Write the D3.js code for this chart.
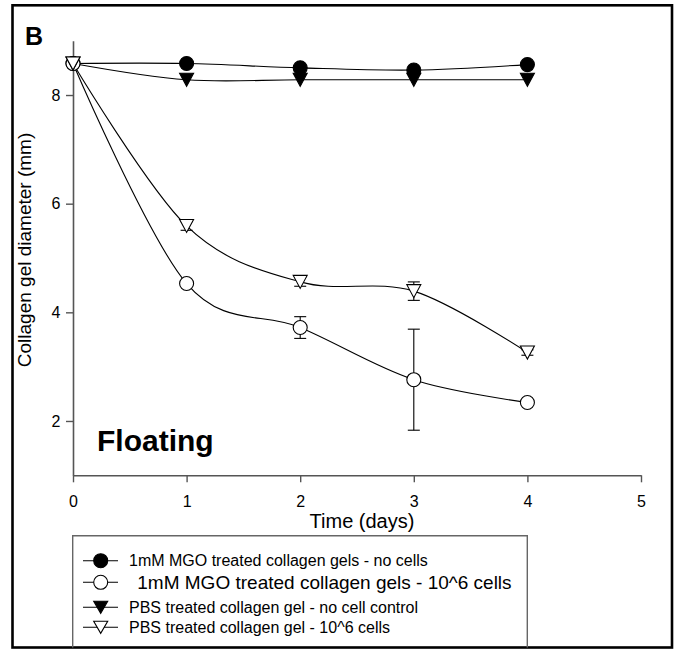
<!DOCTYPE html>
<html>
<head>
<meta charset="utf-8">
<script src="https://cdn.jsdelivr.net/npm/d3@7"></script>
<style>
  html, body { margin: 0; padding: 0; background: #fff; }
  svg { display: block; font-family: "Liberation Sans", Arial, sans-serif; }
</style>
</head>
<body>
<svg id="chart" width="674" height="649"></svg>
<script>
// ---- data ----
const days = [0, 1, 2, 3, 4];
const xTicks = [0, 1, 2, 3, 4, 5];
const yTicks = [2, 4, 6, 8];
const mgoNoCells = [8.58, 8.58, 8.50, 8.46, 8.56];
const mgoCells = [8.58, 4.53, 3.72, 2.76, 2.34];
const mgoCellsErr = [0, 0.05, 0.20, 0.93, 0.05];
const pbsNoCells = [8.58, 8.28, 8.28, 8.28, 8.28];
const pbsCells = [8.58, 5.59, 4.56, 4.39, 3.26];
const pbsCellsErr = [0, 0.08, 0.08, 0.17, 0.05];
const legendLabels = [
  "1mM MGO treated collagen gels - no cells",
  "1mM MGO treated collagen gels - 10^6 cells",
  "PBS treated collagen gel - no cell control",
  "PBS treated collagen gel - 10^6 cells"
];

const svg = d3.select("#chart");
const x = d3.scaleLinear().domain([0, 5]).range([73, 641]);
const y = d3.scaleLinear().domain([1, 9]).range([475.3, 40.7]);
const axisColor = "#555";

// outer frame
svg.append("rect").attr("x", 12.5).attr("y", 5.3).attr("width", 659.5).attr("height", 642.2)
  .attr("fill", "none").attr("stroke", "#000").attr("stroke-width", 2.6);

// axes
const gx = svg.append("g").attr("transform", `translate(0,${y(1)})`)
  .call(d3.axisBottom(x).tickValues(xTicks).tickFormat(d3.format("d")).tickSize(7).tickPadding(13).tickSizeOuter(0));
const gy = svg.append("g").attr("transform", `translate(${x(0)},0)`)
  .call(d3.axisLeft(y).tickValues(yTicks).tickFormat(d3.format("d")).tickSize(7).tickPadding(5.5).tickSizeOuter(0));
[gx, gy].forEach(g => {
  g.select(".domain").attr("stroke", axisColor).attr("stroke-width", 1.6);
  g.selectAll(".tick line").attr("stroke", axisColor).attr("stroke-width", 1.4);
  g.selectAll(".tick text").attr("fill", "#000").style("font-size", "16px").style("font-family", "'Liberation Sans', Arial, sans-serif");
});

// axis titles
svg.append("text").attr("transform", "translate(31,250) rotate(-90)").attr("text-anchor", "middle")
  .style("font-size", "19px").text("Collagen gel diameter (mm)");
svg.append("text").attr("x", 362).attr("y", 528).attr("text-anchor", "middle")
  .style("font-size", "20px").text("Time (days)");

// panel labels
svg.append("text").attr("x", 25).attr("y", 45).style("font-size", "25px").style("font-weight", "bold").text("B");
svg.append("text").attr("x", 97).attr("y", 451).style("font-size", "30px").style("font-weight", "bold").text("Floating");

// lines
const line = d3.line().x((d, i) => x(days[i])).y(d => y(d)).curve(d3.curveCardinal.tension(0));
const series = [
  { vals: mgoNoCells, err: null, type: "circle", fill: "#000" },
  { vals: mgoCells, err: mgoCellsErr, type: "circle", fill: "#fff" },
  { vals: pbsNoCells, err: null, type: "tri", fill: "#000" },
  { vals: pbsCells, err: pbsCellsErr, type: "tri", fill: "#fff" }
];
const triPath = (h) => `M-7,${-h / 2}L7,${-h / 2}L0,${h / 2}Z`;

series.forEach(s => {
  svg.append("path").datum(s.vals).attr("d", line).attr("fill", "none").attr("stroke", "#000").attr("stroke-width", 1.1);
});
// error bars
series.forEach(s => {
  if (!s.err) return;
  const g = svg.append("g").attr("stroke", "#000").attr("stroke-width", 1.1);
  s.vals.forEach((v, i) => {
    const e = s.err[i];
    if (!e) return;
    const cx = x(days[i]);
    g.append("line").attr("x1", cx).attr("x2", cx).attr("y1", y(v + e)).attr("y2", y(v - e));
    g.append("line").attr("x1", cx - 6).attr("x2", cx + 6).attr("y1", y(v + e)).attr("y2", y(v + e));
    g.append("line").attr("x1", cx - 6).attr("x2", cx + 6).attr("y1", y(v - e)).attr("y2", y(v - e));
  });
});
// markers
series.forEach(s => {
  const g = svg.append("g");
  s.vals.forEach((v, i) => {
    if (s.type === "circle") {
      g.append("circle").attr("cx", x(days[i])).attr("cy", y(v)).attr("r", 7)
        .attr("fill", s.fill).attr("stroke", "#000").attr("stroke-width", 1.1);
    } else {
      g.append("path").attr("d", triPath(13)).attr("transform", `translate(${x(days[i])},${y(v)})`)
        .attr("fill", s.fill).attr("stroke", "#000").attr("stroke-width", 1.1);
    }
  });
});

// legend
svg.append("path").attr("d", "M72.7,647.5V535.7H527.3V647.5").attr("fill", "none").attr("stroke", "#666").attr("stroke-width", 1.4);
const legendY = [560.7, 582.3, 607.3, 627.3];
const legendTextX = [129, 137.3, 129, 129];
const legendSize = [16, 19, 16, 16];
series.forEach((s, i) => {
  const cy = legendY[i];
  svg.append("line").attr("x1", 83).attr("x2", 118).attr("y1", cy).attr("y2", cy).attr("stroke", "#000").attr("stroke-width", 1.1);
  if (s.type === "circle") {
    svg.append("circle").attr("cx", 100.7).attr("cy", cy).attr("r", 7).attr("fill", s.fill).attr("stroke", "#000").attr("stroke-width", 1.1);
  } else {
    svg.append("path").attr("d", triPath(12)).attr("transform", `translate(100.7,${cy})`)
      .attr("fill", s.fill).attr("stroke", "#000").attr("stroke-width", 1.1);
  }
  svg.append("text").attr("x", legendTextX[i]).attr("y", cy).attr("dy", "0.36em")
    .style("font-size", legendSize[i] + "px").text(legendLabels[i]);
});
</script>
</body>
</html>
